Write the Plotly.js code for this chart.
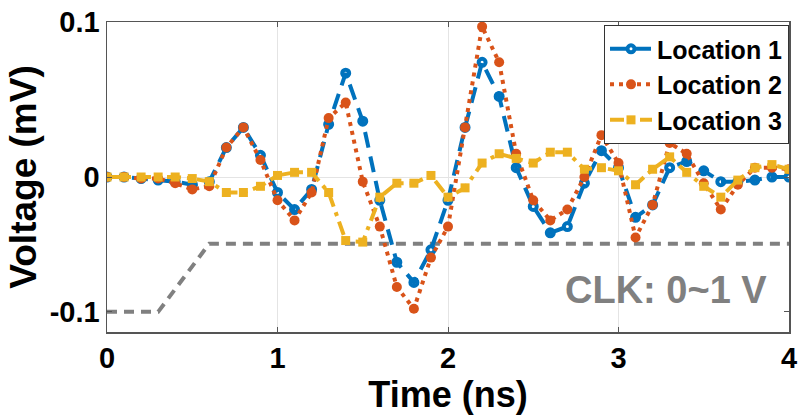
<!DOCTYPE html>
<html>
<head>
<meta charset="utf-8">
<script src="https://cdn.plot.ly/plotly-3.0.1.min.js"></script>
<style>
  html, body { margin: 0; padding: 0; background: #fff; }
  #chart { width: 802px; height: 415px; }
</style>
</head>
<body>
<div id="chart"></div>
<script>
// Time axis (ns)
const time = [0.0,0.1,0.2,0.3,0.4,0.5,0.6,0.7,0.8,0.9,
              1.0,1.1,1.2,1.3,1.4,1.5,1.6,1.7,1.8,1.9,
              2.0,2.1,2.2,2.3,2.4,2.5,2.6,2.7,2.8,2.9,
              3.0,3.1,3.2,3.3,3.4,3.5,3.6,3.7,3.8,3.9,4.0];

// Voltage (mV) per location
const location1 = [0,0,-0.001,-0.002,-0.003,-0.005,-0.003,0.019,0.032,0.014,
                   -0.010,-0.021,-0.008,0.034,0.067,0.036,-0.015,-0.055,-0.068,-0.047,
                   -0.015,0.032,0.074,0.052,0.006,-0.019,-0.036,-0.032,-0.004,0.017,
                   0.006,-0.026,-0.018,0.006,0.010,0.004,-0.003,-0.003,-0.002,0,0];
const location2 = [0,0,-0.001,-0.001,-0.004,-0.008,-0.006,0.019,0.032,0.011,
                   -0.015,-0.028,-0.010,0.038,0.048,-0.003,-0.032,-0.071,-0.085,-0.052,
                   -0.032,0.032,0.097,0.074,0.015,-0.015,-0.028,-0.021,0,0.027,
                   0.009,-0.039,-0.018,0.022,0.015,-0.004,-0.021,-0.005,0.006,0.006,0.005];
const location3 = [0,0,0,0,0,-0.001,-0.003,-0.010,-0.010,-0.006,
                   0.001,0.003,0.003,-0.010,-0.041,-0.042,-0.013,-0.004,-0.004,0.001,
                   -0.013,-0.007,0.009,0.015,0.012,0.009,0.016,0.016,0.005,0.006,
                   0.004,-0.005,0.005,0.013,0.003,-0.006,-0.013,-0.002,0.006,0.008,0.005];

// Clock waveform (drawn on the same axis, 0 V -> low level, 1 V -> high level)
const clkTime = [0, 0.3, 0.6, 4];
const clkLevel = [-0.087, -0.087, -0.043, -0.043];

const seriesNames = ['Location 1', 'Location 2', 'Location 3'];
const xTickVals = [0, 1, 2, 3, 4];
const xTickText = ['0', '1', '2', '3', '4'];
const yTickVals = [-0.087, 0, 0.1];
const yTickText = ['-0.1', '0', '0.1'];

const FONT = 'Liberation Sans, Arial, Helvetica, sans-serif';

const traces = [
  {
    x: clkTime, y: clkLevel, mode: 'lines', showlegend: false, hoverinfo: 'skip',
    line: { color: '#808080', width: 4, dash: '10px,7px' }
  },
  {
    x: time, y: location1, name: seriesNames[0], mode: 'lines+markers',
    line: { color: '#0072BD', width: 4, dash: '16px,9px' },
    marker: { symbol: 'circle-open', size: 7, color: '#0072BD', line: { color: '#0072BD', width: 4 } }
  },
  {
    x: time, y: location2, name: seriesNames[1], mode: 'lines+markers',
    line: { color: '#D95319', width: 4, dash: '4px,5px' },
    marker: { symbol: 'circle', size: 10, color: '#D95319' }
  },
  {
    x: time, y: location3, name: seriesNames[2], mode: 'lines+markers',
    line: { color: '#EDB120', width: 4, dash: '14px,6px,4px,6px' },
    marker: { symbol: 'square', size: 9, color: '#EDB120' }
  }
];

const axisColor = '#555555';
const layout = {
  width: 802, height: 415,
  margin: { l: 107, r: 12.5, t: 22, b: 83 },
  paper_bgcolor: '#ffffff', plot_bgcolor: '#ffffff',
  font: { family: FONT, color: '#000000', weight: 'bold' },
  showlegend: true,
  legend: {
    x: 1, xanchor: 'right', y: 0.99, yanchor: 'top',
    bgcolor: '#ffffff', bordercolor: '#333333', borderwidth: 1,
    font: { family: FONT, size: 25, color: '#000000', weight: 'bold' },
    itemwidth: 42, tracegroupgap: 0
  },
  xaxis: {
    range: [0, 4], tickmode: 'array', tickvals: xTickVals, ticktext: xTickText,
    showgrid: true, gridcolor: '#e4e4e4', gridwidth: 1, zeroline: false,
    showline: true, linecolor: axisColor, linewidth: 1.5, mirror: 'ticks',
    ticks: 'inside', ticklen: 5, tickcolor: axisColor,
    tickfont: { family: FONT, size: 29, color: '#000000', weight: 'bold' },
    title: { text: 'Time (ns)', font: { family: FONT, size: 36, color: '#000000', weight: 'bold' }, standoff: 4 },
    automargin: false
  },
  yaxis: {
    range: [-0.1, 0.1], tickmode: 'array', tickvals: yTickVals, ticktext: yTickText,
    showgrid: false, zeroline: true, zerolinecolor: '#e4e4e4', zerolinewidth: 1,
    showline: true, linecolor: axisColor, linewidth: 1.5, mirror: 'ticks',
    ticks: 'inside', ticklen: 5, tickcolor: axisColor,
    tickfont: { family: FONT, size: 29, color: '#000000', weight: 'bold' },
    title: { text: 'Voltage (mV)', font: { family: FONT, size: 37, color: '#000000', weight: 'bold' }, standoff: 2 },
    automargin: false
  },
  annotations: [{
    x: 3.28, y: -0.073, xref: 'x', yref: 'y', showarrow: false,
    text: 'CLK: 0~1 V', xanchor: 'center', yanchor: 'middle',
    font: { family: FONT, size: 38, color: '#808080', weight: 'bold' }
  }]
};

Plotly.newPlot('chart', traces, layout, { displayModeBar: false, staticPlot: true });
</script>
</body>
</html>
